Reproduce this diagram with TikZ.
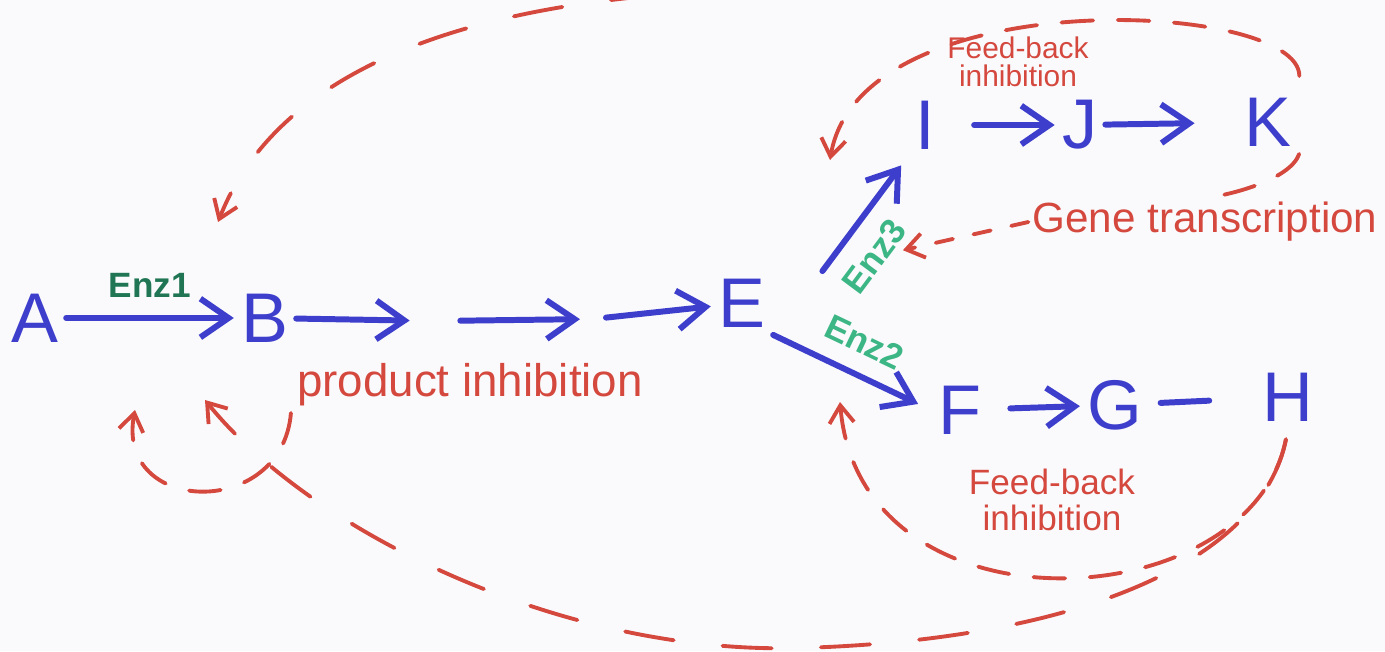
\documentclass[tikz,border=0pt]{standalone}
\usepackage{fontspec}
\setmainfont{Liberation Sans}
\usetikzlibrary{positioning,arrows.meta,calc}
\definecolor{paper}{RGB}{250,250,253}
\definecolor{molblue}{RGB}{62,62,205}
\definecolor{inhred}{RGB}{212,72,62}
\definecolor{enzgreen}{RGB}{60,182,132}
\definecolor{enzdark}{RGB}{32,118,84}
\tikzset{
  mol/.style={text=molblue, font=\fontsize{20}{20}\selectfont, inner sep=2pt},
  skipnode/.style={inner sep=0pt, minimum height=1pt},
  flow/.style={-{Straight Barb[length=8pt, width=11pt, line width=1.7pt]},
               draw=molblue, line width=1.7pt, line cap=round},
  link/.style={draw=molblue, line width=1.7pt, line cap=round},
  fbline/.style={draw=inhred, line width=1.1pt, dash pattern=on 9pt off 7pt, line cap=round},
  fb/.style={fbline, -{Straight Barb[length=5pt, width=7pt, line width=1.1pt]}},
  fblong/.style={fb, dash pattern=on 14pt off 14pt},
  lab/.style={text=inhred, inner sep=1pt, align=center},
  enz/.style={text=enzgreen, font=\bfseries\fontsize{10}{10}\selectfont, inner sep=1pt},
}

\begin{document}
\begin{tikzpicture}[x=0.01cm, y=-0.01cm]
  \fill[paper] (0,0) rectangle (1385,651);
  \useasboundingbox (0,0) rectangle (1385,651);

  %% main line
  \node[mol] (A) at (35,318) {A};
  \node[mol] (B) at (265,318) {B};
  \node[skipnode, minimum width=14pt] (c1) at (435,321) {};
  \node[skipnode, minimum width=7pt] (c2) at (593,319) {};
  \node[mol] (E) at (742,303) {E};

  \draw[flow] (A) -- node[enz, text=enzdark, above=4pt] {Enz1} (B);
  \draw[flow] (B) -- (c1);
  \draw[flow] (c1) -- (c2);
  \draw[flow] (c2) -- (E);

  %% upper branch
  \node[mol] (I) at (925,125) {I};
  \node[mol] (J) at (1080,125) {J};
  \node[mol] (K) at (1268,122) {K};

  \draw[flow, shorten >=3pt] ([xshift=14pt]E.north east) --
    node[enz, sloped, below=4pt, pos=0.3] (enz3) {Enz3} (I.south west);
  \draw[flow, shorten <=9pt] (I) -- (J);
  \draw[flow, shorten >=12pt] (J) -- (K);

  %% lower branch
  \node[mol] (F) at (960,410) {F};
  \node[mol] (G) at (1115,405) {G};
  \node[mol] (H) at (1288,397) {H};

  \draw[flow, shorten >=4pt] (E.south east) --
    node[enz, sloped, above=4pt, pos=0.49] {Enz2} (F.west);
  \draw[flow, shorten <=6pt] (F) -- (G);
  \draw[link, shorten <=3pt, shorten >=13pt] (G) -- (H);

  %% labels
  \node[lab, font=\fontsize{13}{13}\selectfont] (prod) at (470,385) {product inhibition};
  \node[lab, font=\fontsize{12}{12}\selectfont] (gene) at (1205,222) {Gene transcription};
  \node[lab, font=\fontsize{8.5}{8}\selectfont] (fbtop) at (1018,62) {Feed-back\\inhibition};
  \node[lab, font=\fontsize{10}{10}\selectfont] (fbbot) at (1052,500) {Feed-back\\inhibition};

  %% inhibition loops
  \coordinate (Bin) at (218,222);
  \coordinate (Bback) at (205,400);
  \coordinate (Bloop) at (135,410);
  \coordinate (Iin) at (830,160);
  \coordinate (Fin) at (840,402);
  \coordinate (topout) at (660,-5);

  \draw[fblong] (topout) .. controls (420,15) and (270,90) .. (Bin);
  \draw[fb, shorten <=18pt] (B.south east) .. controls (282,520) and (115,515) .. (Bloop);
  \draw[fblong, shorten <=3pt] (H.south) .. controls (1262,560) and (1080,640) .. (800,648)
    .. controls (560,655) and (310,530) .. (Bback);
  \draw[fb, shorten <=3pt] (H.south) .. controls (1250,620) and (860,640) .. (Fin);
  \draw[fb, shorten <=4pt] (K.north east) .. controls (1300,0) and (860,-20) .. (Iin);
  \draw[fbline] (K.south east) .. controls (1290,180) and (1230,195) .. (gene.north);
  \draw[fb, dash pattern=on 5pt off 6pt] (gene.west) -- (enz3);
\end{tikzpicture}
\end{document}
